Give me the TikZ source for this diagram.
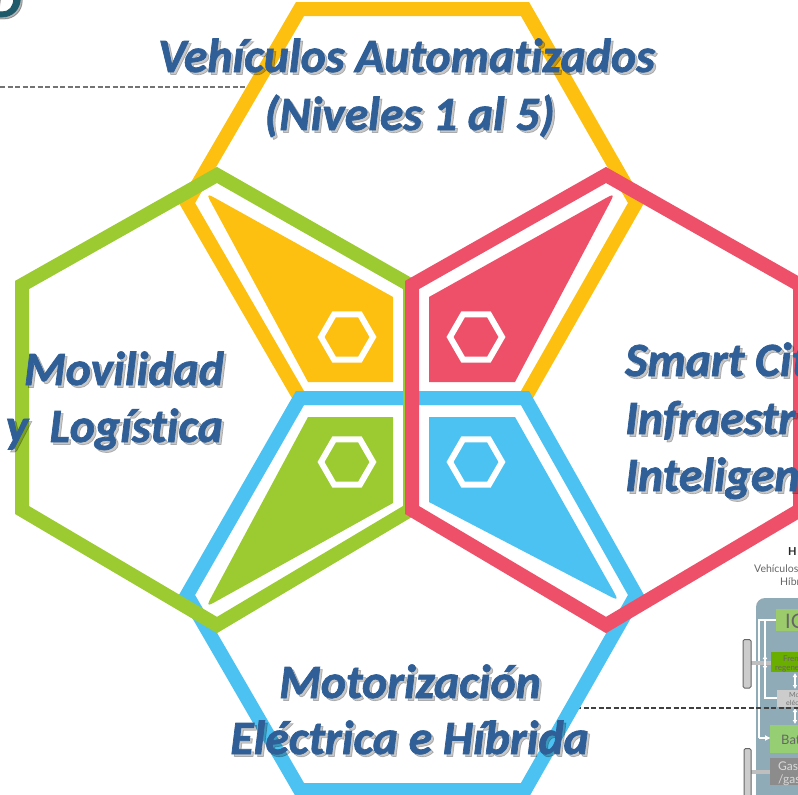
\documentclass[tikz,border=0pt]{standalone}
\usepackage{fontspec}
\setmainfont[Ligatures=NoCommon,BoldItalicFeatures={FakeBold=1.5}]{Carlito}
\newfontfamily\smallfont{Lato}
\definecolor{hexyellow}{HTML}{FDC010}
\definecolor{hexgreen}{HTML}{9BCB30}
\definecolor{hexred}{HTML}{EF5069}
\definecolor{hexblue}{HTML}{4BC2F1}
\definecolor{titleblue}{HTML}{2F5F96}
\definecolor{panelgrey}{HTML}{8FABB8}
\definecolor{iclight}{HTML}{9CCB6C}
\definecolor{frendark}{HTML}{6AAE00}
\definecolor{batlight}{HTML}{96CF73}
\definecolor{gasgrey}{HTML}{8C8C8C}
\definecolor{headteal}{HTML}{1F5A6A}
\usetikzlibrary{shapes.geometric,arrows.meta,calc}
\tikzset{
  hexline/.style={line width=14pt,line join=miter,miter limit=10},
  minihex/.style={draw=white,line width=6pt,fill=none,line join=miter,regular polygon,regular polygon sides=6,minimum size=52pt,inner sep=0pt},
  titletext/.style={font=\fontsize{47.7}{48}\selectfont\bfseries\itshape,text=titleblue,inner sep=0pt},
  titleshadow/.style={font=\fontsize{47.7}{48}\selectfont\bfseries\itshape,text=black,opacity=.22,inner sep=0pt},
  guideline/.style={dash pattern=on 5pt off 2.5pt,line width=1.3pt},
  minitext/.style={font=\smallfont\fontsize{8}{8}\selectfont,inner sep=0pt,anchor=base west},
  wheel/.style={draw=black!60,fill=black!20,line width=1pt,rounded corners=1.5pt},
  wire/.style={draw=white,line width=1.2pt},
}
\begin{document}
\begin{tikzpicture}[x=1pt,y=-1pt]
\useasboundingbox (0,0) rectangle (798,795);
\clip (0,0) rectangle (798,795);
\fill[white] (0,0) rectangle (798,795);

% inset diagram, lower right
\fill[panelgrey,rounded corners=9pt] (756,598) rectangle (830,830);
\draw[wire] (776,620) -- (759,620) -- (759,738);
\draw[wire] (776,620) -- (765,620) -- (765,698) -- (777,698);
\draw[wire,-{Latex[length=6pt,width=6pt]}] (759,738) -- (771,738);
\draw[wire,{Latex[length=4pt,width=5pt]}-{Latex[length=4pt,width=5pt]}] (795,673) -- (795,689);
\draw[wire,{Latex[length=4pt,width=5pt]}-{Latex[length=4pt,width=5pt]}] (795,708) -- (795,724);
\draw[line width=4pt,black!25] (751,663) -- (771,663);
\draw[line width=4pt,black!25] (751,772) -- (771,772);
\draw[wire,{Latex[length=4pt,width=5pt]}-{Latex[length=4pt,width=5pt]}] (765,655) -- (765,670);
\draw[wheel] (743,639.5) rectangle (751,688);
\draw[wheel] (744,748.5) rectangle (751,810);
\fill[iclight] (776,609) rectangle (800,631);
\fill[frendark] (771,652) rectangle (800,672);
\fill[black!20] (777,690) rectangle (800,707);
\fill[batlight] (770,725) rectangle (800,753);
\fill[gasgrey] (770,758) rectangle (800,785);
\node[minitext,font=\smallfont\bfseries\fontsize{11}{11}\selectfont,text=black!85] (th) at (788,555) {H};
\node[minitext,font=\smallfont\fontsize{10.5}{10.5}\selectfont,text=black!60] (tv) at (754,572) {Vehículos};
\node[minitext,font=\smallfont\fontsize{10.5}{10.5}\selectfont,text=black!60] (tb) at (780,585) {Híbr};
\node[minitext,font=\smallfont\fontsize{20}{20}\selectfont,text=black!60] (tic) at (785,628) {IC};
\node[minitext,font=\smallfont\fontsize{8}{8}\selectfont,text=black!60] (tf) at (783,661) {Fren};
\node[minitext,font=\smallfont\fontsize{8}{8}\selectfont,text=black!60] (tr) at (775,670) {regene};
\node[minitext,font=\smallfont\fontsize{7}{7}\selectfont,text=black!55] (tm) at (789,697) {Mo};
\node[minitext,font=\smallfont\fontsize{7}{7}\selectfont,text=black!55] (te) at (786,705) {eléc};
\node[minitext,font=\smallfont\fontsize{13}{13}\selectfont,text=black!60] (tba) at (781,744) {Bate};
\node[minitext,font=\smallfont\fontsize{12}{12}\selectfont,text=white!85!black] (tg) at (778,770) {Gaso};
\node[minitext,font=\smallfont\fontsize{12}{12}\selectfont,text=white!85!black] (tgg) at (778,783) {/gas};

% dashed guide lines
\coordinate (la) at (0,87);
\coordinate (lb) at (247,87);
\coordinate (lc) at (576,708);
\coordinate (ld) at (798,708);
\draw[guideline,black!55] (la) -- (lb);
\draw[guideline,black!75] (lc) -- (ld);

% fragment of a heading, upper left
\node[font=\fontsize{52}{52}\selectfont\bfseries\itshape,text=black,opacity=.3,inner sep=0pt,anchor=base east] (dshadow) at (23,19) {D};
\node[font=\fontsize{52}{52}\selectfont\bfseries\itshape,text=headteal,inner sep=0pt,anchor=base east] (dtext) at (21,17) {D};

% the four filled pieces, each with one rounded tip
\coordinate (yt) at (206,193);
\coordinate (rt) at (615,193);
\coordinate (gt) at (206,607);
\coordinate (bt) at (619,601);
\fill[hexyellow] (393,297) -- ($(yt)!15pt!(393,297)$) .. controls (yt) .. ($(yt)!15pt!(308,382)$) -- (308,382) -- (393,382) -- cycle;
\fill[hexred] (429,297) -- ($(rt)!15pt!(429,297)$) .. controls (rt) .. ($(rt)!15pt!(515,382)$) -- (515,382) -- (429,382) -- cycle;
\fill[hexgreen] (393,503) -- ($(gt)!15pt!(393,503)$) .. controls (gt) .. ($(gt)!15pt!(308,417)$) -- (308,417) -- (393,417) -- cycle;
\fill[hexblue] (429,502) -- ($(bt)!15pt!(429,502)$) .. controls (bt) .. ($(bt)!15pt!(515,417)$) -- (515,417) -- (429,417) -- cycle;
\node[minihex] (hy) at (347,337) {};
\node[minihex] (hr) at (476,337) {};
\node[minihex] (hg) at (347,462) {};
\node[minihex] (hb) at (476,462) {};

% the four large hexagons
\draw[hexline,hexyellow] (300,9) -- (525,9) -- (636,203) -- (525,398) -- (300,398) -- (187,203) -- cycle;
\draw[hexline,hexblue] (300,398) -- (525,398) -- (636,595) -- (525,790) -- (300,790) -- (187,595) -- cycle;
\draw[hexline,hexgreen] (217,175) -- (410,285) -- (410,510) -- (217,625) -- (22,510) -- (22,285) -- cycle;
\draw[hexline,hexred] (606,175) -- (800,285) -- (800,510) -- (606,625) -- (412,510) -- (412,285) -- cycle;

% titles
\node[titleshadow,anchor=base] (s1) at (409,74.5) {Vehículos Automatizados};
\node[titleshadow,anchor=base] (s2) at (412,132.5) {(Niveles 1 al 5)};
\node[titleshadow,anchor=base east] (s3) at (226.5,387.5) {Movilidad};
\node[titleshadow,anchor=base east] (s4) at (225.5,444.5) {y\ \ Logística};
\node[titleshadow,anchor=base west] (s5) at (627.5,378.5) {Smart Cit};
\node[titleshadow,anchor=base west] (s6) at (627.5,436.5) {Infraestr};
\node[titleshadow,anchor=base west] (s7) at (627.5,493.5) {Inteligen};
\node[titleshadow,anchor=base] (s8) at (412.5,700.5) {Motorización};
\node[titleshadow,anchor=base] (s9) at (412,756.5) {Eléctrica e Híbrida};

\node[titletext,anchor=base] (t1) at (406.5,72) {Vehículos Automatizados};
\node[titletext,anchor=base] (t2) at (409.5,130) {(Niveles 1 al 5)};
\node[titletext,anchor=base east] (t3) at (224,385) {Movilidad};
\node[titletext,anchor=base east] (t4) at (223,442) {y\ \ Logística};
\node[titletext,anchor=base west] (t5) at (625,376) {Smart Cit};
\node[titletext,anchor=base west] (t6) at (625,434) {Infraestr};
\node[titletext,anchor=base west] (t7) at (625,491) {Inteligen};
\node[titletext,anchor=base] (t8) at (410,698) {Motorización};
\node[titletext,anchor=base] (t9) at (409.5,754) {Eléctrica e Híbrida};
\end{tikzpicture}
\end{document}
